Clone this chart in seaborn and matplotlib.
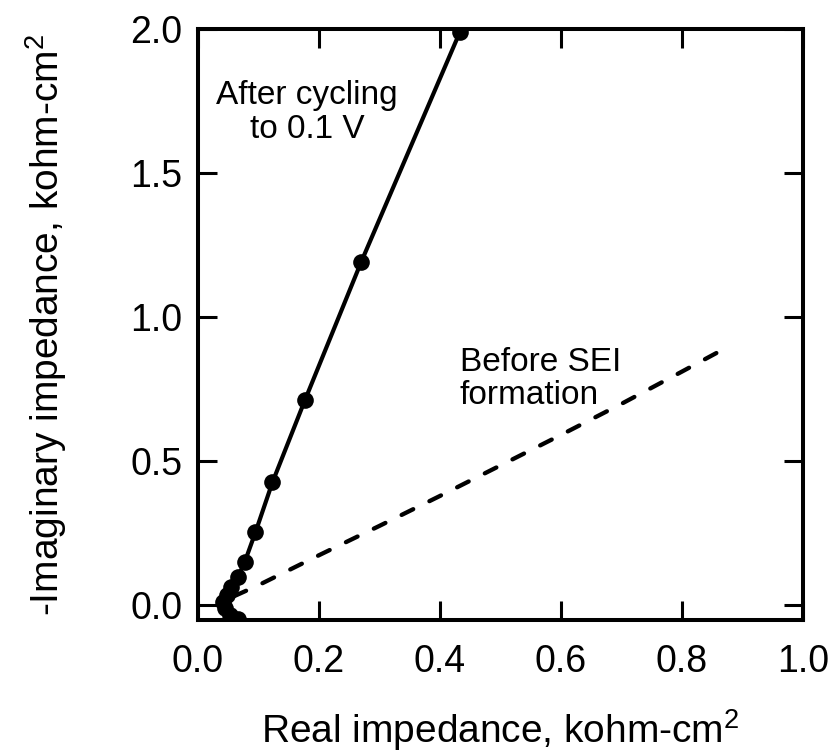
import matplotlib
matplotlib.use("Agg")
import matplotlib.pyplot as plt
import seaborn as sns
import pandas as pd

# After cycling to 0.1 V (solid, with markers)
after_real = [0.066, 0.053, 0.044, 0.042, 0.048, 0.055, 0.0656, 0.0775, 0.095, 0.123, 0.177, 0.270, 0.433]
after_imag = [-0.050, -0.035, -0.010, 0.010, 0.035, 0.060, 0.095, 0.150, 0.252, 0.425, 0.712, 1.192, 1.990]

# Before SEI formation (dashed)
before_real = [0.060, 0.100, 0.200, 0.300, 0.400, 0.500, 0.600, 0.700, 0.800, 0.868]
before_imag = [0.030, 0.068, 0.172, 0.274, 0.378, 0.484, 0.590, 0.698, 0.810, 0.887]

x_ticks = [0.0, 0.2, 0.4, 0.6, 0.8, 1.0]
y_ticks = [0.0, 0.5, 1.0, 1.5, 2.0]

sns.set_style("ticks")
plt.rcParams['font.family'] = ['Liberation Sans', 'DejaVu Sans']
plt.rcParams['mathtext.fontset'] = 'custom'
plt.rcParams['mathtext.rm'] = 'Liberation Sans'
plt.rcParams['mathtext.it'] = 'Liberation Sans'
plt.rcParams['text.color'] = 'black'
plt.rcParams['axes.labelcolor'] = 'black'
plt.rcParams['xtick.color'] = 'black'
plt.rcParams['ytick.color'] = 'black'
plt.rcParams['axes.edgecolor'] = 'black'

fig = plt.figure(figsize=(8.33, 7.54), dpi=100)
ax = fig.add_axes([198/833, 1-620/754, 605/833, (620-29)/754])

df_after = pd.DataFrame({"x": after_real, "y": after_imag})
df_before = pd.DataFrame({"x": before_real, "y": before_imag})

sns.lineplot(data=df_after, x="x", y="y", ax=ax, color="black", lw=3.0,
             marker="o", markersize=12, markeredgewidth=0, sort=False,
             estimator=None)
sns.lineplot(data=df_before, x="x", y="y", ax=ax, color="black", lw=3.1,
             sort=False, estimator=None, dashes=False)
ax.lines[-1].set_linestyle((0, (3.0, 4.2)))
ax.lines[-1].set_dash_capstyle("round")

ax.set_xlim(0, 1.0)
ax.set_ylim(-0.053, 2.0)
ax.set_xticks(x_ticks)
ax.set_yticks(y_ticks)
ax.set_xticklabels([f"{v:.1f}" for v in x_ticks])
ax.set_yticklabels([f"{v:.1f}" for v in y_ticks])
ax.tick_params(direction="in", length=14, width=2.2, labelsize=27,
               top=True, right=True)
ax.tick_params(axis="x", pad=17)
ax.tick_params(axis="y", pad=11)
for s in ax.spines.values():
    s.set_linewidth(2.9)
    s.set_visible(True)

ax.set_xlabel(r"Real impedance, kohm-cm$^2$", fontsize=28, labelpad=20)
ax.set_ylabel(r"-Imaginary impedance, kohm-cm$^2$", fontsize=28, labelpad=44)

ax.text(0.18, 1.71, "After cycling\nto 0.1 V", fontsize=24, ha="center",
        va="center", linespacing=1.1)
ax.text(0.433, 0.785, "Before SEI\nformation", fontsize=24, ha="left",
        va="center", linespacing=1.1)

fig.savefig("out.png", dpi=100)
